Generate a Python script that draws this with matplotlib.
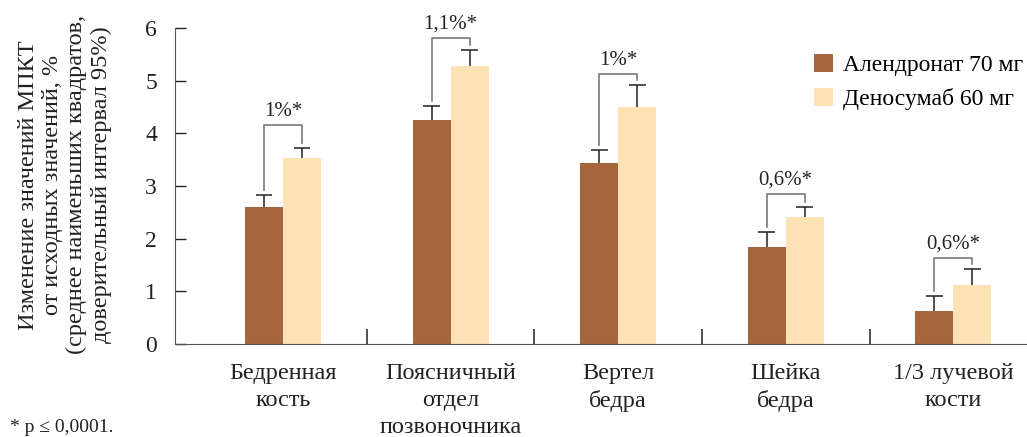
import numpy as np
import matplotlib.pyplot as plt

# данные (изменение МПКТ, %)
categories = ['Бедренная\nкость', 'Поясничный\nотдел\nпозвоночника', 'Вертел\nбедра',
              'Шейка\nбедра', '1/3 лучевой\nкости']
alendronate = [2.60, 4.25, 3.43, 1.84, 0.63]
alendronate_err = [0.23, 0.27, 0.25, 0.28, 0.28]
denosumab = [3.53, 5.28, 4.50, 2.41, 1.12]
denosumab_err = [0.19, 0.30, 0.41, 0.19, 0.30]
diff_labels = ['1%*', '1,1%*', '1%*', '0,6%*', '0,6%*']
bracket_top = [4.16, 5.81, 5.12, 2.85, 1.63]

brown = '#A5663D'
light = '#FDE2B5'
plt.rcParams['font.family'] = ['Liberation Serif', 'DejaVu Serif']

fig = plt.figure(figsize=(10.27, 4.37), dpi=100)
ax = fig.add_axes([0.1704, 0.2128, 0.8296, 0.7231])

x = np.arange(len(categories))
w = 0.227
ax.bar(x - w / 2, alendronate, w, color=brown, label='Алендронат 70 мг')
ax.bar(x + w / 2, denosumab, w, color=light, label='Деносумаб 60 мг')

# только верхние усы
cap = 0.05
for xs, v, e in [(x - w / 2, alendronate, alendronate_err), (x + w / 2, denosumab, denosumab_err)]:
    top = np.array(v) + np.array(e)
    ax.vlines(xs, v, top, color='#222222', lw=1.1)
    ax.hlines(top, xs - cap, xs + cap, color='#222222', lw=1.1)

# скобки с разницей
for i in range(len(x)):
    lb = alendronate[i] + alendronate_err[i] + 0.1
    rb = denosumab[i] + denosumab_err[i] + 0.1
    t = bracket_top[i]
    ax.plot([x[i] - w / 2, x[i] - w / 2, x[i] + w / 2, x[i] + w / 2], [lb, t, t, rb],
            color='#7a7a7a', lw=1.2, clip_on=False)
    ax.text(x[i], t + 0.08, diff_labels[i], ha='center', va='bottom', fontsize=15,
            color='#222222', clip_on=False)

ax.set_ylim(0, 6)
ax.set_xlim(-0.645, 4.44)
ax.set_yticks(range(7))
ax.tick_params(axis='y', direction='in', length=8, width=1, labelsize=17, pad=13,
               colors='#222222')
ax.set_xticks(x)
ax.set_xticklabels(categories, fontsize=17.5, linespacing=1.35)
ax.set_xticks(x[:-1] + 0.5, minor=True)
ax.tick_params(axis='x', which='major', length=0, pad=14, colors='#222222')
ax.tick_params(axis='x', which='minor', direction='in', length=11, width=1.1, color='#222222')

for s in ['top', 'right']:
    ax.spines[s].set_visible(False)
ax.spines['left'].set_color('#555555')
ax.spines['bottom'].set_color('#555555')

fig.text(0.063, 0.577, 'Изменение значений МПКТ\nот исходных значений, %\n'
         '(среднее наименьших квадратов,\nдоверительный интервал 95%)',
         rotation=90, ha='center', va='center', fontsize=17.5, linespacing=1.2,
         color='#222222', multialignment='center')

ax.legend(loc='upper right', bbox_to_anchor=(1.02, 0.985), frameon=False, fontsize=17,
          handlelength=0.8, handleheight=0.8, handletextpad=0.4, labelspacing=0.5)

fig.text(0.01, 0.012, '* p ≤ 0,0001.', fontsize=14, color='#222222')

fig.savefig('out.png', dpi=100)
